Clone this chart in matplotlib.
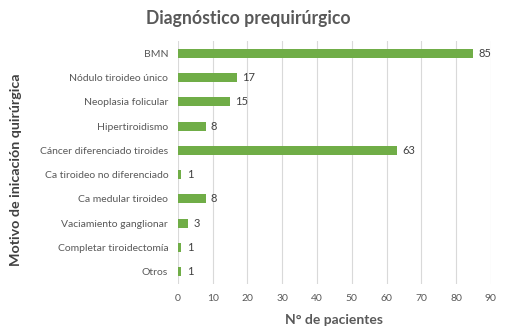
import matplotlib
matplotlib.use("Agg")
import matplotlib.pyplot as plt

categories = ["BMN", "Nódulo tiroideo único", "Neoplasia folicular", "Hipertiroidismo",
              "Cáncer diferenciado tiroides", "Ca tiroideo no diferenciado",
              "Ca medular tiroideo", "Vaciamiento ganglionar",
              "Completar tiroidectomía", "Otros"]
values = [85, 17, 15, 8, 63, 1, 8, 3, 1, 1]
xticks = [0, 10, 20, 30, 40, 50, 60, 70, 80, 90]

plt.rcParams['font.family'] = ['Lato', 'DejaVu Sans']
gray = "#595959"

fig = plt.figure(figsize=(5.07, 3.36), dpi=100)
ax = fig.add_axes([0.351, 0.155, 0.617, 0.723])

y = list(range(len(categories)))
ax.barh(y, values, height=0.37, color="#70AD47", zorder=3)
for yi, v in zip(y, values):
    ax.text(v + 1.5, yi, str(v), va="center", ha="left", fontsize=8, color="#404040")

ax.set_yticks(y)
ax.set_yticklabels(categories, fontsize=7.5, color=gray)
ax.set_ylim(len(categories) - 0.5, -0.5)
ax.set_xlim(0, 90)
ax.set_xticks(xticks)
ax.set_xticklabels([str(t) for t in xticks], fontsize=7.5, color=gray)
ax.tick_params(length=0, pad=7)
ax.grid(axis="x", color="#D9D9D9", linewidth=0.8, zorder=0)
for s in ax.spines.values():
    s.set_visible(False)

ax.set_xlabel("N° de pacientes", fontsize=10, fontweight="bold", color=gray, labelpad=8)
ax.set_ylabel("Motivo de inicación quirúrgica", fontsize=10.3, fontweight="bold", color="#404040")
ax.yaxis.set_label_coords(-0.50, 0.47)
fig.text(0.49, 0.945, "Diagnóstico prequirúrgico", ha="center", va="center",
         fontsize=12.7, fontweight="bold", color=gray)

fig.savefig("out.png", dpi=100)
